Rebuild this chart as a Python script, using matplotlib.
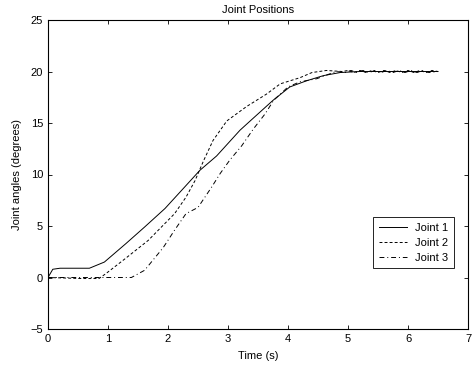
import matplotlib
matplotlib.use("Agg")
import matplotlib.pyplot as plt

# time samples and joint angles
t1 = [0, 0.08, 0.2, 0.4, 0.69, 0.94, 1.3, 1.61, 1.95, 2.28, 2.53, 2.81, 3.2, 3.37,
      3.75, 4.03, 4.31, 4.59, 4.87, 5.2, 5.6, 6.0, 6.5]
joint1 = [0, 0.8, 0.9, 0.9, 0.9, 1.5, 3.3, 4.9, 6.7, 8.8, 10.4, 11.8, 14.3, 15.2,
          17.2, 18.5, 19.1, 19.6, 19.9, 20.0, 20.0, 20.0, 20.0]

t2 = [0, 0.55, 0.85, 0.97, 1.28, 1.67, 2.11, 2.3, 2.45, 2.59, 2.75, 2.98, 3.31, 3.64,
      3.87, 4.2, 4.4, 4.64, 4.9, 5.0, 5.1, 5.2, 5.3, 5.4, 5.5, 5.6, 5.7, 5.8, 5.9,
      6.0, 6.1, 6.2, 6.3, 6.4, 6.5]
joint2 = [0, -0.1, -0.1, 0.4, 1.8, 3.6, 6.2, 7.8, 9.4, 11.3, 13.3, 15.2, 16.6, 17.8,
          18.8, 19.4, 19.9, 20.1, 20.0, 20.1, 19.9, 20.1, 19.9, 20.1, 19.9, 20.1, 19.9,
          20.1, 19.9, 20.1, 19.9, 20.1, 19.9, 20.1, 20.0]

t3 = [0, 1.39, 1.61, 1.92, 2.11, 2.3, 2.5, 2.73, 2.87, 3.03, 3.23, 3.42, 3.62, 3.76,
      4.0, 4.2, 4.48, 4.8, 4.95, 5.05, 5.15, 5.25, 5.35, 5.45, 5.55, 5.65, 5.75, 5.85,
      5.95, 6.05, 6.15, 6.25, 6.35, 6.5]
joint3 = [0, 0, 0.7, 2.9, 4.6, 6.2, 6.8, 8.8, 10.1, 11.4, 12.8, 14.4, 15.9, 17.2,
          18.5, 19.0, 19.3, 20.0, 19.9, 20.1, 19.9, 20.1, 19.9, 20.1, 19.9, 20.1, 19.9,
          20.1, 19.9, 20.1, 19.9, 20.1, 19.9, 20.0]

xticks = [0, 1, 2, 3, 4, 5, 6, 7]
yticks = [-5, 0, 5, 10, 15, 20, 25]

plt.rcParams['font.family'] = ['Liberation Sans', 'DejaVu Sans']
plt.rcParams['font.size'] = 8

fig = plt.figure(figsize=(4.72, 3.70), dpi=100)
ax = fig.add_axes([48 / 472, 1 - 329 / 370, 420 / 472, 309 / 370])

ax.plot(t1, joint1, color='black', lw=0.7, ls='-', label='Joint 1')
ax.plot(t2, joint2, color='black', lw=0.7, ls=(0, (3, 2.2)), label='Joint 2')
ax.plot(t3, joint3, color='black', lw=0.7, ls=(0, (5, 3, 1, 3)), label='Joint 3')

ax.set_xlim(0, 7)
ax.set_ylim(-5, 25)
ax.set_xticks(xticks)
ax.set_yticks(yticks)
ax.tick_params(direction='in', top=True, right=True, length=3, width=0.6, pad=3.5)
for s in ax.spines.values():
    s.set_linewidth(0.8)

ax.set_title('Joint Positions', fontsize=8, pad=5)
ax.set_xlabel('Time (s)', labelpad=5)
ax.set_ylabel('Joint angles (degrees)', labelpad=6)

leg = ax.legend(loc='lower right', bbox_to_anchor=(0.967, 0.197), borderaxespad=0,
                frameon=True, fancybox=False, edgecolor='black', framealpha=1,
                handlelength=2.5, borderpad=0.5, labelspacing=0.45, handletextpad=0.8)
leg.get_frame().set_linewidth(0.6)

fig.savefig('out.png', dpi=100)
